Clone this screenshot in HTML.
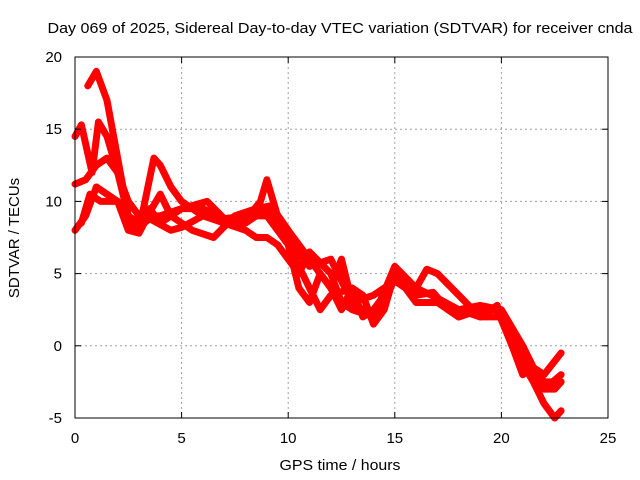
<!DOCTYPE html>
<html><head><meta charset="utf-8"><style>
body{margin:0;background:#fff;}
svg{display:block;font-family:"Liberation Sans",sans-serif;}
</style></head><body>
<svg id="chart" width="640" height="480" viewBox="0 0 640 480">
<text x="340" y="33" font-size="15" text-anchor="middle" textLength="585" lengthAdjust="spacingAndGlyphs">Day 069 of 2025, Sidereal Day-to-day VTEC variation (SDTVAR) for receiver cnda</text>
<text x="340" y="470" font-size="15" text-anchor="middle" textLength="121" lengthAdjust="spacingAndGlyphs">GPS time / hours</text>
<text x="0" y="0" font-size="15" text-anchor="middle" transform="translate(19,238) rotate(-90)">SDTVAR / TECUs</text>
<g id="grid"></g>
<g id="series"></g>
<rect x="75" y="57" width="533" height="361" fill="none" stroke="#000" stroke-width="1"/>
<g id="ticks"></g>
</svg>
<script>
const xTicks=[0,5,10,15,20,25];
const yTicks=[-5,0,5,10,15,20];
const seriesA=[[0.6,18],[1.0,19],[1.5,17],[2.0,13],[2.5,9],[3,8.5],[3.5,9.5],[4,8.5],[5,9.5],[6,9.5],[7,8.8],[8,8.7],[8.7,10],[9,11.5],[9.5,9],[10,7.5],[11,5.5],[12,6],[13,3],[14,2],[15,5],[16,3],[17,3],[18,2],[19,2.5],[19.8,2.5],[20.5,0.5],[21,-1],[22,-2],[22.8,-0.5]];
const seriesB=[[0,14.5],[0.3,15.3],[0.8,12],[1.1,15.5],[1.5,14.5],[2,12],[2.5,10],[3,9],[4,9],[5,9.5],[6.2,10],[7,8.8],[8,8.5],[9,9.5],[10,8],[11,6],[12,4],[12.5,6],[13,3],[14,3.5],[15,4.5],[16,4],[17,3.3],[18,2.5],[19,2.8],[20,2.5],[21,0],[21.5,-1.5],[22,-2.5],[22.8,-2.5]];
const seriesC=[[0,11.2],[0.5,11.5],[1,12.5],[1.5,13],[2,12],[2.5,9],[3,8],[3.7,13],[4,12.5],[4.5,11],[5,10],[6,9],[7,8.5],[8,8],[8.5,7.5],[9,7.5],[9.5,7],[10,6],[10.5,5],[11,6.5],[12,5],[12.5,3],[13,2.5],[14,2],[15,5.5],[16,4],[16.5,5.3],[17,5],[18,3.5],[19,2],[20,2],[20.5,0],[21,-2],[21.5,-1.5],[22,-3],[22.5,-3],[22.8,-2.5]];
const seriesD=[[0,8],[0.5,9],[1,11],[1.5,10.5],[2,10],[2.8,8],[3.5,8.8],[4.5,8],[5,8.2],[6,9],[7,8.8],[8,9],[9,9],[10,7],[10.5,4],[11,3],[11.5,5],[12,4],[12.5,2.5],[13,4],[13.5,2],[14,2.5],[15,4.5],[16,3.5],[16.8,3.7],[17.5,2.5],[18,2],[19,2.5],[19.8,2.5],[20.5,0],[21,-1.5],[22,-3],[22.8,-2]];
const seriesE=[[0.3,8.5],[0.7,10.5],[1.2,10],[2,10],[2.5,8],[3,7.8],[3.6,9.5],[4,10.5],[4.5,9],[5.5,8],[6.5,7.5],[7.5,9],[8.5,9.5],[9.2,9.7],[10,8],[10.5,5.5],[11,4],[11.5,2.5],[12,3.5],[13,4],[13.5,3.5],[14,1.5],[14.5,2.5],[15,5],[16,3],[17,3],[18,2.5],[19,2],[19.8,2.8],[20.5,0],[21.5,-2.5],[22,-4],[22.5,-5],[22.8,-4.5]];
const allSeries=[seriesA,seriesB,seriesC,seriesD,seriesE];
const NS="http://www.w3.org/2000/svg";
const X0=75,X1=608,Y0=418,Y1=57;
function xs(v){return X0+(v-0)/(25-0)*(X1-X0);}
function ys(v){return Y0-(v-(-5))/(20-(-5))*(Y0-Y1);}
const grid=document.getElementById('grid'),ticks=document.getElementById('ticks'),ser=document.getElementById('series');
function mk(tag,attrs,parent){const e=document.createElementNS(NS,tag);for(const k in attrs)e.setAttribute(k,attrs[k]);parent.appendChild(e);return e;}
xTicks.forEach(t=>{
  const x=xs(t);
  if(t>0&&t<25){const g=mk('line',{x1:x,x2:x,y1:Y1,y2:Y0,stroke:'#a0a0a0','stroke-dasharray':'2,3'},grid);
  
  }
  const a=mk('line',{x1:x,x2:x,y1:Y0,y2:Y0-6,stroke:'#000'},ticks);
  
  
  const b=mk('line',{x1:x,x2:x,y1:Y1,y2:Y1+6,stroke:'#000'},ticks);
  
  
  const tx=mk('text',{x:x,y:443,'font-size':15,'text-anchor':'middle'},ticks);tx.textContent=t;
  
  
});
yTicks.forEach(t=>{
  const y=ys(t);
  if(t>-5&&t<20){const g=mk('line',{x1:X0,x2:X1,y1:y,y2:y,stroke:'#a0a0a0','stroke-dasharray':'2,3'},grid);
  
  }
  const a=mk('line',{x1:X0,x2:X0+6,y1:y,y2:y,stroke:'#000'},ticks);
  
  
  const b=mk('line',{x1:X1,x2:X1-6,y1:y,y2:y,stroke:'#000'},ticks);
  
  
  const tx=mk('text',{x:62,y:y+5,'font-size':15,'text-anchor':'end'},ticks);tx.textContent=t;
  
  
});
allSeries.forEach((s,i)=>{
  const p=mk('polyline',{points:s.map(d=>xs(d[0])+','+ys(d[1])).join(' '),fill:'none',stroke:'#ff0000','stroke-width':7,'stroke-linejoin':'round','stroke-linecap':'round'},ser);
  
  
});
</script>
</body></html>
